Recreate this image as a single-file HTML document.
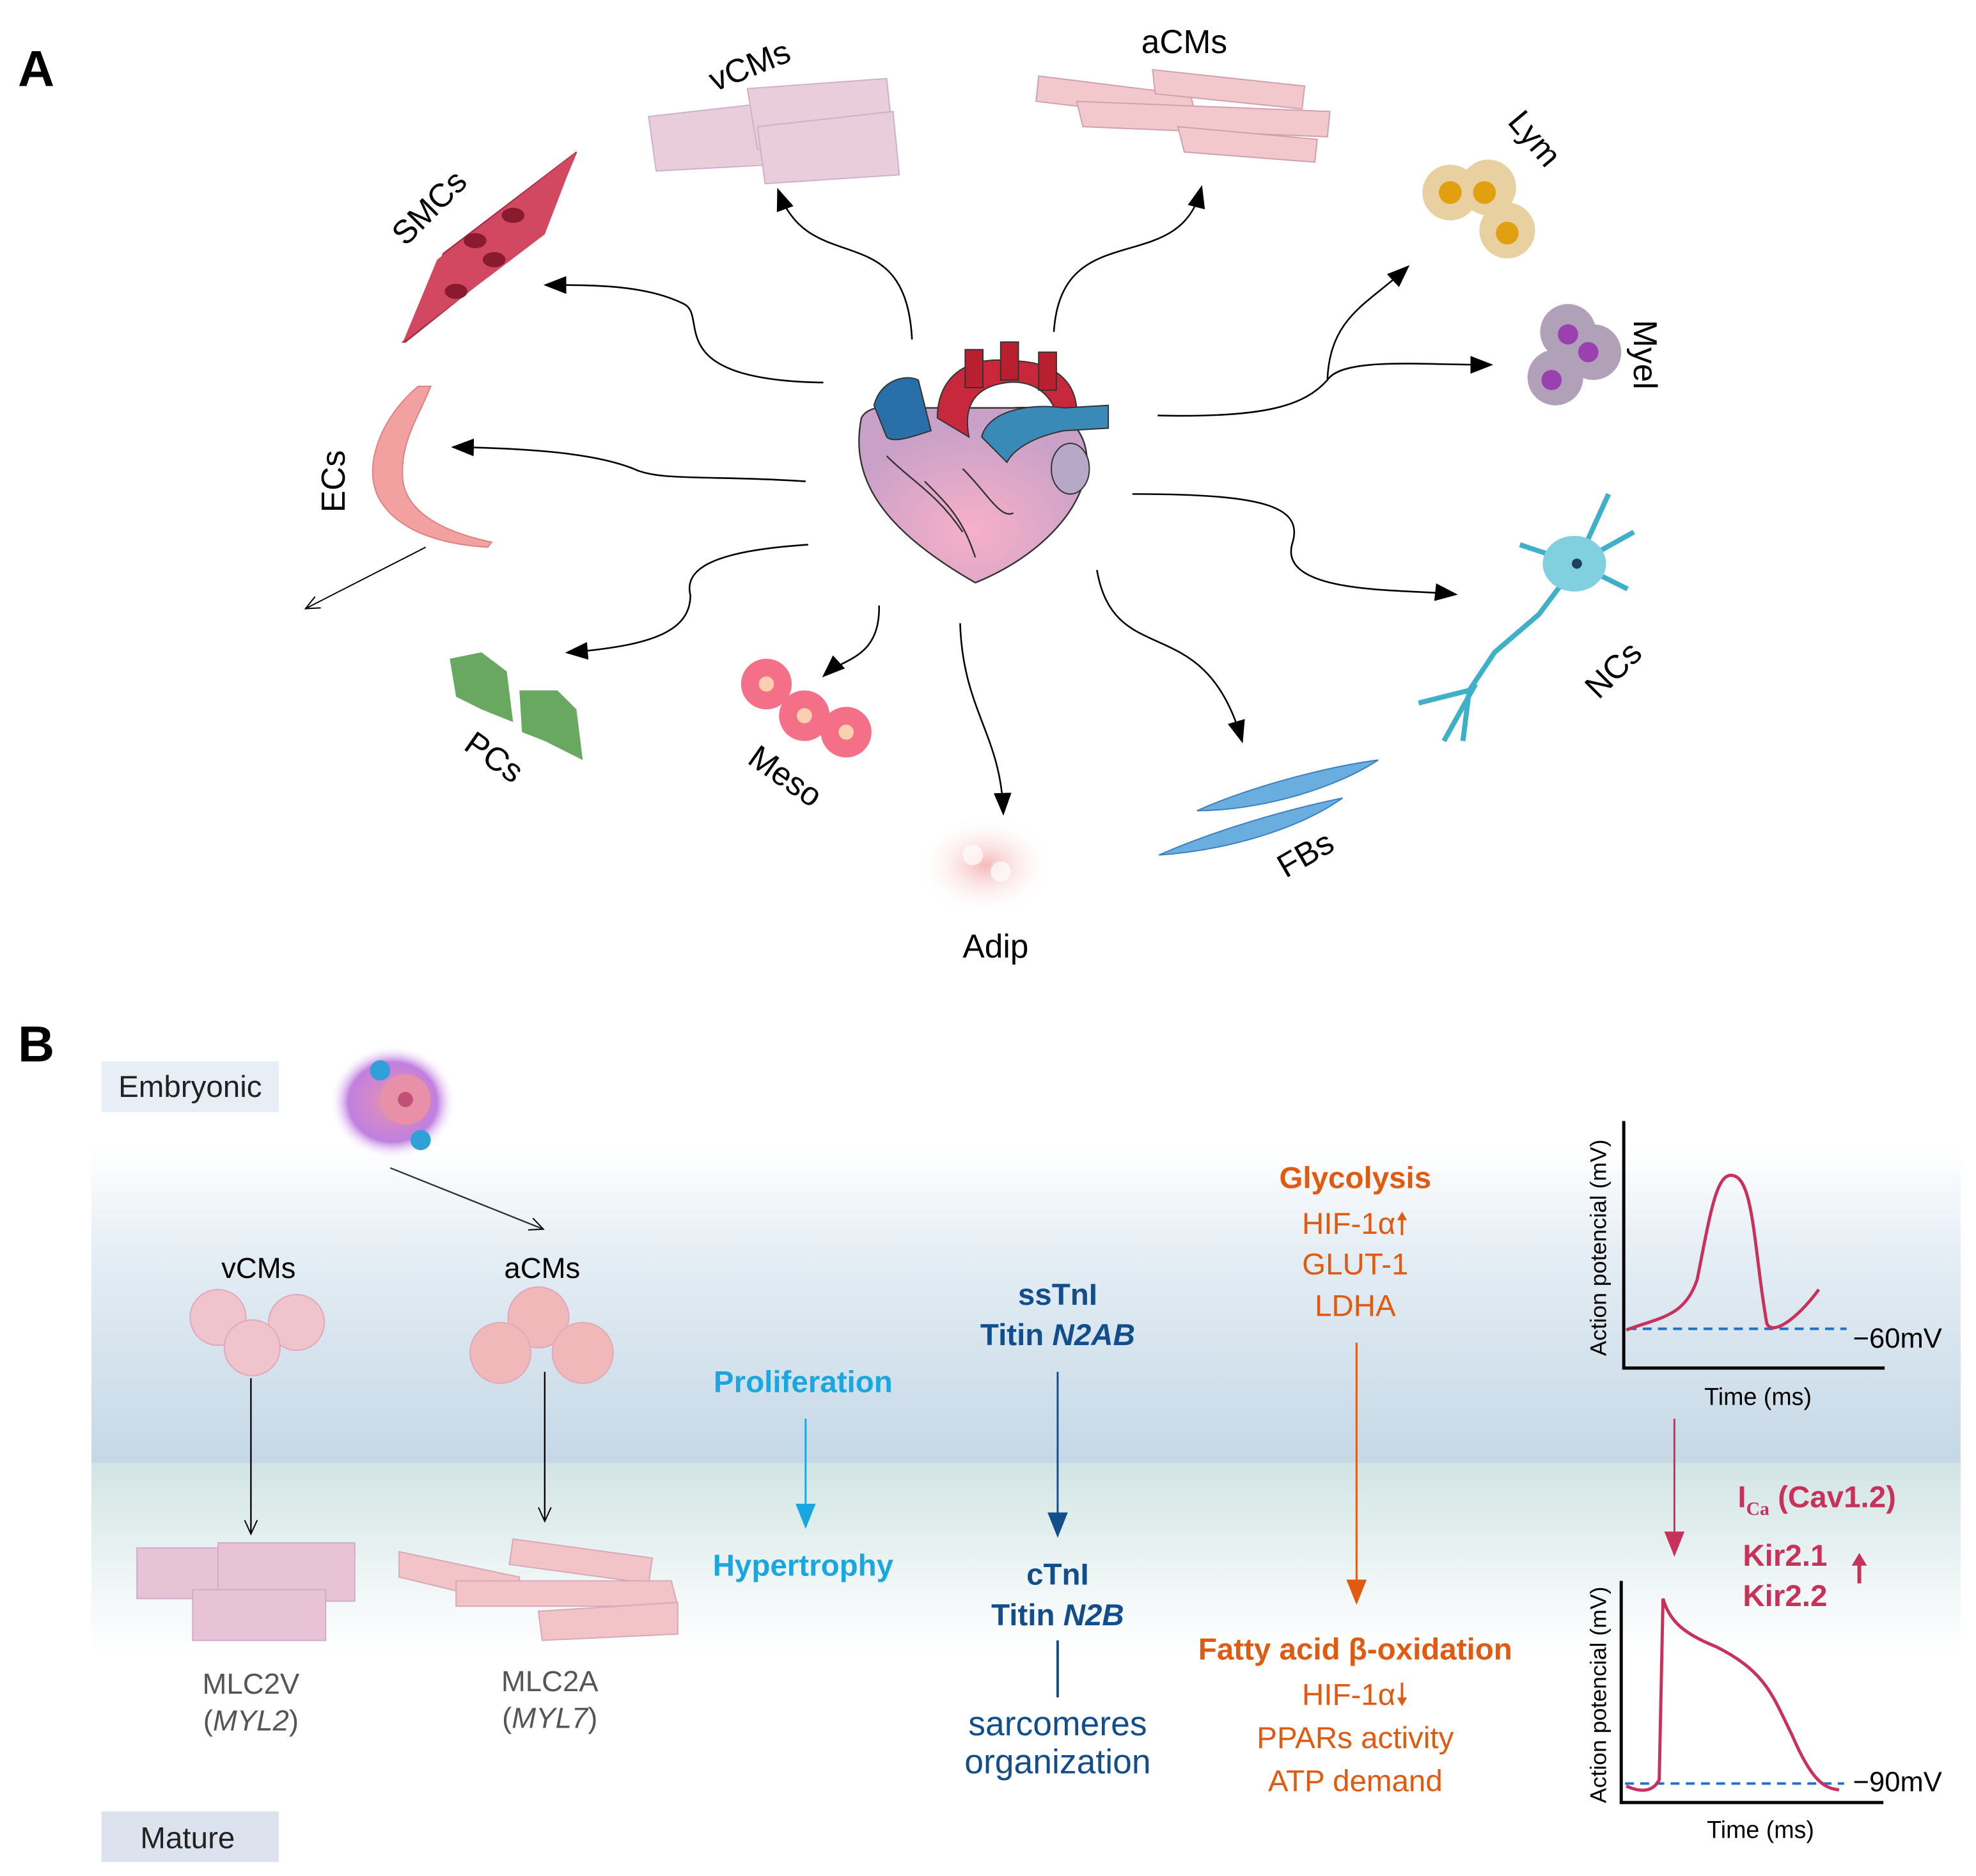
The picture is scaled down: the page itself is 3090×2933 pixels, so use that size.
<!DOCTYPE html>
<html><head><meta charset="utf-8">
<style>
html,body{margin:0;padding:0;background:#fff;}
svg{display:block;}
text{font-family:"Liberation Sans",Arial,sans-serif;}
</style></head>
<body>
<svg width="3090" height="2933" viewBox="0 0 1560 1481" xmlns="http://www.w3.org/2000/svg">
<defs>
<marker id="ab" markerWidth="10" markerHeight="10" refX="8" refY="5" orient="auto" markerUnits="userSpaceOnUse" viewBox="0 0 10 10">
<path d="M0,0 L10,5 L0,10 z" fill="#000"/></marker>
<marker id="ab2" markerWidth="18" markerHeight="18" refX="14" refY="9" orient="auto" markerUnits="userSpaceOnUse" viewBox="0 0 18 18">
<path d="M0,2 L18,9 L0,16 z" fill="#000"/></marker>
<marker id="as" markerWidth="12" markerHeight="12" refX="10" refY="6" orient="auto" markerUnits="userSpaceOnUse" viewBox="0 0 12 12">
<path d="M0,1 L11,6 L0,11" fill="none" stroke="#000" stroke-width="1"/></marker>
<marker id="acy" markerWidth="20" markerHeight="20" refX="16" refY="10" orient="auto" markerUnits="userSpaceOnUse" viewBox="0 0 20 20">
<path d="M0,2 L20,10 L0,18 z" fill="#1aa7e0"/></marker>
<marker id="anv" markerWidth="20" markerHeight="20" refX="16" refY="10" orient="auto" markerUnits="userSpaceOnUse" viewBox="0 0 20 20">
<path d="M0,2 L20,10 L0,18 z" fill="#134e8c"/></marker>
<marker id="aor" markerWidth="20" markerHeight="20" refX="16" refY="10" orient="auto" markerUnits="userSpaceOnUse" viewBox="0 0 20 20">
<path d="M0,2 L20,10 L0,18 z" fill="#e05a10"/></marker>
<marker id="apk" markerWidth="20" markerHeight="20" refX="16" refY="10" orient="auto" markerUnits="userSpaceOnUse" viewBox="0 0 20 20">
<path d="M0,2 L20,10 L0,18 z" fill="#c8325a"/></marker>
<linearGradient id="bgT" x1="0" y1="0" x2="0" y2="1">
<stop offset="0" stop-color="#ffffff"/><stop offset="0.35" stop-color="#e4edf4"/><stop offset="1" stop-color="#c5d8e6"/></linearGradient>
<linearGradient id="bgB" x1="0" y1="0" x2="0" y2="1">
<stop offset="0" stop-color="#d2e4e4"/><stop offset="0.6" stop-color="#eef5f5"/><stop offset="1" stop-color="#ffffff"/></linearGradient>
<radialGradient id="heart" cx="0.5" cy="0.7" r="0.6">
<stop offset="0" stop-color="#f7b0c8"/><stop offset="1" stop-color="#c8a0c8"/></radialGradient>
<radialGradient id="adip" cx="0.5" cy="0.5" r="0.5">
<stop offset="0" stop-color="#f6b8b8"/><stop offset="1" stop-color="#fff" stop-opacity="0"/></radialGradient>
<radialGradient id="emb" cx="0.5" cy="0.5" r="0.5">
<stop offset="0" stop-color="#e890b0"/><stop offset="0.7" stop-color="#c080e0"/><stop offset="1" stop-color="#fff" stop-opacity="0"/></radialGradient>
</defs>

<!-- Panel letters -->
<text x="14" y="68" font-size="40" font-weight="bold">A</text>
<text x="14" y="838" font-size="40" font-weight="bold">B</text>

<!-- ===== Panel A ===== -->
<!-- heart -->
<g>
<path d="M680,330 C670,380 700,420 770,460 C820,440 860,400 858,360 C855,330 830,320 800,322 L730,322 C700,320 685,320 680,330 Z" fill="url(#heart)" stroke="#333" stroke-width="1.2"/>
<path d="M740,330 C740,300 760,280 800,285 C830,285 850,300 850,325 L835,330 C830,310 815,300 795,302 C770,305 760,320 765,345 Z" fill="#c8283c" stroke="#333"/>
<rect x="762" y="276" width="14" height="30" fill="#b82030" stroke="#333"/>
<rect x="790" y="270" width="14" height="30" fill="#b82030" stroke="#333"/>
<rect x="820" y="278" width="14" height="30" fill="#b82030" stroke="#333"/>
<path d="M775,345 C780,325 810,318 840,322 L875,320 L875,338 L840,340 C815,345 800,355 795,365 Z" fill="#3a8ab8" stroke="#333"/>
<path d="M690,320 C695,300 715,295 725,300 L735,340 C720,345 705,350 700,345 Z" fill="#2a70a8" stroke="#333"/>
<path d="M700,360 C720,380 740,390 760,420 M760,370 C780,390 790,410 800,405 M730,380 C750,400 760,410 770,440" stroke="#333" fill="none" stroke-width="1.2"/>
<ellipse cx="845" cy="370" rx="15" ry="20" fill="#b8a8c8" stroke="#333"/>
</g>

<!-- connectors A -->
<g fill="none" stroke="#000" stroke-width="1.3" marker-end="url(#ab2)">
<path d="M720,268 C715,170 640,220 615,152"/>
<path d="M832,262 C838,170 930,220 948,150"/>
<path d="M650,302 C520,300 560,250 540,240 C510,225 470,225 433,225"/>
<path d="M636,380 C560,375 520,380 500,370 C470,358 420,354 360,353"/>
<path d="M638,430 C560,435 540,450 545,470 C545,500 510,510 450,515"/>
<path d="M694,478 C695,520 665,520 652,532"/>
<path d="M758,492 C760,560 790,580 792,640"/>
<path d="M866,450 C880,530 950,480 980,583"/>
<path d="M894,390 C1000,390 1030,400 1020,430 C1010,470 1110,465 1147,469"/>
<path d="M914,328 C1000,330 1030,320 1048,300 C1050,250 1080,240 1110,212"/>
<path d="M1048,300 C1060,282 1120,288 1175,288"/>
</g>
<line x1="336" y1="432" x2="242" y2="480" stroke="#000" stroke-width="1" marker-end="url(#as)"/>

<!-- vCMs cells -->
<g fill="#e8c8d8" stroke="#c8a8c8" stroke-width="1" opacity="0.9">
<path d="M512,92 L600,82 L610,130 L518,135 Z"/>
<path d="M590,70 L700,62 L705,110 L598,118 Z"/>
<path d="M598,100 L705,88 L710,138 L604,145 Z"/>
</g>
<text x="595" y="60" font-size="26" transform="rotate(-22 595 60)" text-anchor="middle">vCMs</text>
<!-- aCMs -->
<g fill="#f2c8cc" stroke="#d0a0b0" stroke-width="1">
<path d="M820,60 L940,75 L945,95 L818,80 Z"/>
<path d="M910,55 L1030,68 L1028,86 L912,74 Z"/>
<path d="M850,80 L1050,88 L1048,108 L855,100 Z"/>
<path d="M930,100 L1040,110 L1038,128 L935,120 Z"/>
</g>
<text x="935" y="42" font-size="26" text-anchor="middle">aCMs</text>
<!-- SMCs -->
<path d="M318,270 L455,120 L430,180 L320,270 Z M320,270 L350,200 L455,120 L420,190 Z" fill="#c83a58" stroke="#a02840"/>
<path d="M318,270 L345,205 L455,120 L430,185 Z" fill="#d24860"/>
<ellipse cx="375" cy="190" rx="9" ry="6" fill="#8a1a30"/><ellipse cx="405" cy="170" rx="9" ry="6" fill="#8a1a30"/><ellipse cx="360" cy="230" rx="9" ry="6" fill="#8a1a30"/><ellipse cx="390" cy="205" rx="9" ry="6" fill="#8a1a30"/>
<text x="345" y="170" font-size="26" transform="rotate(-45 345 170)" text-anchor="middle">SMCs</text>
<!-- ECs -->
<path d="M330,305 C300,330 285,370 300,395 C315,420 350,430 385,432 L388,428 C350,420 322,405 318,380 C315,350 330,330 340,305 Z" fill="#f2a0a0" stroke="#e08080"/>
<text x="272" y="380" font-size="26" transform="rotate(-90 272 380)" text-anchor="middle">ECs</text>
<!-- PCs -->
<path d="M355,520 L380,515 L400,530 L405,570 L380,560 L360,550 Z" fill="#68a860"/>
<path d="M410,545 L440,545 L455,560 L460,600 L430,585 L412,578 Z" fill="#68a860"/>
<text x="385" y="605" font-size="26" transform="rotate(35 385 605)" text-anchor="middle">PCs</text>
<!-- Meso -->
<g fill="#f47088"><circle cx="605" cy="540" r="20"/><circle cx="635" cy="565" r="20"/><circle cx="668" cy="578" r="20"/></g>
<g fill="#fbd0b0"><circle cx="605" cy="540" r="6"/><circle cx="635" cy="565" r="6"/><circle cx="668" cy="578" r="6"/></g>
<text x="615" y="620" font-size="26" transform="rotate(35 615 620)" text-anchor="middle">Meso</text>
<!-- Adip -->
<ellipse cx="778" cy="683" rx="55" ry="40" fill="url(#adip)"/>
<circle cx="768" cy="675" r="8" fill="#fff" opacity="0.7"/><circle cx="790" cy="688" r="8" fill="#fff" opacity="0.7"/>
<text x="786" y="756" font-size="26" text-anchor="middle">Adip</text>
<!-- FBs -->
<path d="M945,640 C990,620 1050,605 1088,600 C1050,625 990,640 945,640 Z" fill="#6aaee0" stroke="#3a80c0"/>
<path d="M915,675 C960,655 1020,638 1060,630 C1020,658 960,672 915,675 Z" fill="#6aaee0" stroke="#3a80c0"/>
<text x="1035" y="682" font-size="26" transform="rotate(-30 1035 682)" text-anchor="middle">FBs</text>
<!-- Lym -->
<g><circle cx="1145" cy="152" r="22" fill="#e8d0a0"/><circle cx="1175" cy="148" r="22" fill="#e8d0a0"/><circle cx="1190" cy="182" r="22" fill="#e8d0a0"/>
<circle cx="1145" cy="152" r="9" fill="#e0a010"/><circle cx="1172" cy="152" r="9" fill="#e0a010"/><circle cx="1190" cy="184" r="9" fill="#e0a010"/></g>
<text x="1205" y="115" font-size="26" transform="rotate(50 1205 115)" text-anchor="middle">Lym</text>
<!-- Myel -->
<g><circle cx="1238" cy="262" r="22" fill="#b0a0b8"/><circle cx="1258" cy="278" r="22" fill="#b0a0b8"/><circle cx="1228" cy="298" r="22" fill="#b0a0b8"/>
<circle cx="1238" cy="264" r="8" fill="#9a40b0"/><circle cx="1254" cy="278" r="8" fill="#9a40b0"/><circle cx="1225" cy="300" r="8" fill="#9a40b0"/></g>
<text x="1290" y="280" font-size="26" transform="rotate(90 1290 280)" text-anchor="middle">Myel</text>
<!-- NCs -->
<g stroke="#40b0c8" stroke-width="4" fill="none">
<path d="M1245,445 L1215,485 L1180,515 L1160,545 L1120,555 M1160,545 L1155,585 M1165,540 L1140,585"/>
<path d="M1245,445 L1290,420 M1245,445 L1270,390 M1245,445 L1200,430 M1245,445 L1285,465"/>
</g>
<ellipse cx="1243" cy="445" rx="25" ry="22" fill="#80d0e0"/><circle cx="1245" cy="445" r="4" fill="#204060"/>
<text x="1280" y="535" font-size="26" transform="rotate(-45 1280 535)" text-anchor="middle">NCs</text>

<!-- ===== Panel B ===== -->
<rect x="72" y="905" width="1476" height="250" fill="url(#bgT)"/>
<rect x="72" y="1155" width="1476" height="150" fill="url(#bgB)"/>
<rect x="80" y="838" width="140" height="40" fill="#e8eef5"/>
<text x="150" y="866" font-size="24" text-anchor="middle" fill="#222">Embryonic</text>
<rect x="80" y="1430" width="140" height="40" fill="#dde3ee"/>
<text x="148" y="1459" font-size="24" text-anchor="middle" fill="#222">Mature</text>
<!-- embryonic cluster -->
<ellipse cx="310" cy="870" rx="50" ry="45" fill="url(#emb)"/>
<circle cx="320" cy="868" r="20" fill="#e890a8"/><circle cx="300" cy="845" r="8" fill="#30a0d8"/><circle cx="332" cy="900" r="8" fill="#30a0d8"/><circle cx="320" cy="868" r="6" fill="#c05078"/>
<line x1="308" y1="922" x2="428" y2="970" stroke="#333" stroke-width="1.2" marker-end="url(#as)"/>

<text x="204" y="1009" font-size="23" text-anchor="middle">vCMs</text>
<text x="428" y="1009" font-size="23" text-anchor="middle">aCMs</text>
<g fill="#f0c4cc" stroke="#e0a8b8"><circle cx="172" cy="1040" r="22"/><circle cx="234" cy="1044" r="22"/><circle cx="199" cy="1064" r="22"/>
<circle cx="425" cy="1040" r="24" fill="#f0b8b8"/><circle cx="395" cy="1068" r="24" fill="#f0b8b8"/><circle cx="460" cy="1068" r="24" fill="#f0b8b8"/></g>
<line x1="198" y1="1088" x2="198" y2="1210" stroke="#000" stroke-width="1.2" marker-end="url(#as)"/>
<line x1="430" y1="1083" x2="430" y2="1200" stroke="#000" stroke-width="1.2" marker-end="url(#as)"/>
<!-- mature cells -->
<g fill="#e8c0d4" stroke="#d0a8c8" opacity="0.95">
<rect x="108" y="1222" width="80" height="40"/><rect x="172" y="1218" width="108" height="46"/><rect x="152" y="1255" width="105" height="40"/>
</g>
<g fill="#f2c4c8" stroke="#d8a8b8">
<path d="M315,1225 L410,1245 L410,1268 L315,1245 Z"/><path d="M405,1215 L515,1230 L512,1250 L402,1235 Z"/>
<path d="M360,1248 L530,1248 L535,1268 L360,1268 Z"/><path d="M425,1272 L535,1265 L535,1290 L428,1295 Z"/>
</g>
<text x="198" y="1337" font-size="23" text-anchor="middle" fill="#555">MLC2V</text>
<text x="198" y="1366" font-size="23" text-anchor="middle" fill="#555">(<tspan font-style="italic">MYL2</tspan>)</text>
<text x="434" y="1335" font-size="23" text-anchor="middle" fill="#555">MLC2A</text>
<text x="434" y="1364" font-size="23" text-anchor="middle" fill="#555">(<tspan font-style="italic">MYL7</tspan>)</text>

<!-- Proliferation -->
<text x="634" y="1099" font-size="24" font-weight="bold" text-anchor="middle" fill="#1aa7e0">Proliferation</text>
<line x1="636" y1="1120" x2="636" y2="1203" stroke="#1aa7e0" stroke-width="1.5" marker-end="url(#acy)"/>
<text x="634" y="1244" font-size="24" font-weight="bold" text-anchor="middle" fill="#1aa7e0">Hypertrophy</text>

<!-- Titin -->
<g fill="#134e8c" font-size="24" font-weight="bold" text-anchor="middle">
<text x="835" y="1030">ssTnI</text>
<text x="835" y="1062">Titin <tspan font-style="italic">N2AB</tspan></text>
<text x="835" y="1251">cTnI</text>
<text x="835" y="1283">Titin <tspan font-style="italic">N2B</tspan></text>
</g>
<line x1="835" y1="1083" x2="835" y2="1210" stroke="#134e8c" stroke-width="1.5" marker-end="url(#anv)"/>
<line x1="835" y1="1295" x2="835" y2="1340" stroke="#134e8c" stroke-width="2"/>
<text x="835" y="1370" font-size="27" text-anchor="middle" fill="#134e8c">sarcomeres</text>
<text x="835" y="1400" font-size="27" text-anchor="middle" fill="#134e8c">organization</text>

<!-- metabolism -->
<g fill="#e05a10" text-anchor="middle">
<text x="1070" y="938" font-size="24" font-weight="bold">Glycolysis</text>
<text x="1070" y="974" font-size="24">HIF-1α🠕</text>
<text x="1070" y="1006" font-size="24">GLUT-1</text>
<text x="1070" y="1039" font-size="24">LDHA</text>
<text x="1070" y="1310" font-size="24" font-weight="bold">Fatty acid β-oxidation</text>
<text x="1070" y="1346" font-size="24">HIF-1α🠗</text>
<text x="1070" y="1380" font-size="24">PPARs activity</text>
<text x="1070" y="1414" font-size="24">ATP demand</text>
</g>
<line x1="1071" y1="1060" x2="1071" y2="1263" stroke="#e05a10" stroke-width="1.5" marker-end="url(#aor)"/>

<!-- AP graphs -->
<g stroke="#000" stroke-width="2.5" fill="none">
<path d="M1282,885 L1282,1080 L1488,1080"/>
<path d="M1280,1248 L1280,1423 L1487,1423"/>
</g>
<text x="1268" y="985" font-size="18" transform="rotate(-90 1268 985)" text-anchor="middle">Action potencial (mV)</text>
<text x="1268" y="1338" font-size="18" transform="rotate(-90 1268 1338)" text-anchor="middle">Action potencial (mV)</text>
<text x="1388" y="1109" font-size="19" text-anchor="middle">Time (ms)</text>
<text x="1390" y="1451" font-size="19" text-anchor="middle">Time (ms)</text>
<line x1="1285" y1="1049" x2="1458" y2="1049" stroke="#2070c8" stroke-width="2" stroke-dasharray="7,5"/>
<line x1="1283" y1="1408" x2="1456" y2="1408" stroke="#2070c8" stroke-width="2" stroke-dasharray="7,5"/>
<text x="1463" y="1064" font-size="22">−60mV</text>
<text x="1463" y="1414" font-size="22">−90mV</text>
<path d="M1284,1050 C1310,1040 1330,1040 1340,1010 C1350,960 1355,925 1368,928 C1385,930 1385,990 1395,1045 C1400,1055 1420,1040 1436,1018" stroke="#c8325a" stroke-width="2.5" fill="none"/>
<path d="M1284,1410 C1295,1415 1305,1415 1310,1405 L1313,1262 C1318,1280 1330,1290 1355,1300 C1395,1320 1400,1340 1415,1370 C1430,1405 1440,1412 1452,1413" stroke="#c8325a" stroke-width="2.5" fill="none"/>
<line x1="1322" y1="1120" x2="1322" y2="1225" stroke="#c8325a" stroke-width="1.5" marker-end="url(#apk)"/>
<g fill="#c8325a" font-weight="bold" font-size="24">
<text x="1372" y="1190">I<tspan font-family="Liberation Serif" font-size="15" dy="6">Ca</tspan><tspan dy="-6"> (Cav1.2)</tspan></text>
<text x="1376" y="1236">Kir2.1</text>
<text x="1376" y="1268">Kir2.2</text>
</g>
<line x1="1468" y1="1250" x2="1468" y2="1232" stroke="#c8325a" stroke-width="3"/>
<path d="M1462,1236 L1468,1226 L1474,1236 Z" fill="#c8325a"/>
</svg>
</body></html>
